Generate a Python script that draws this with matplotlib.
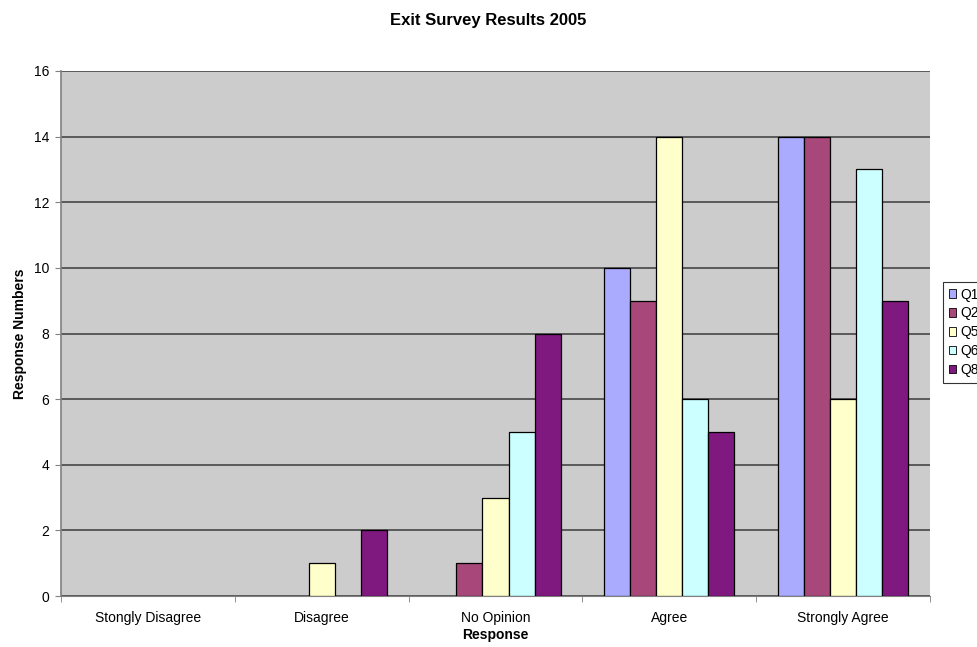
import numpy as np
import matplotlib.pyplot as plt
from matplotlib.patches import Patch

plt.rcParams['font.family'] = ['Liberation Sans', 'DejaVu Sans']

categories = ["Stongly Disagree", "Disagree", "No Opinion", "Agree", "Strongly Agree"]
series = ["Q1", "Q2", "Q5", "Q6", "Q8"]
q1 = [0, 0, 0, 10, 14]
q2 = [0, 0, 1, 9, 14]
q5 = [0, 1, 3, 14, 6]
q6 = [0, 0, 5, 6, 13]
q8 = [0, 2, 8, 5, 9]
values = [q1, q2, q5, q6, q8]
colors = ["#AAAAFF", "#A8487A", "#FFFFCC", "#CCFFFF", "#80197F"]

fig = plt.figure(figsize=(9.77, 6.47), dpi=100)
ax = fig.add_axes([61/977, 51/647, 869/977, 525/647])
ax.set_facecolor("#CCCCCC")

x = np.arange(len(categories))
w = 0.15
for i, (name, vals) in enumerate(zip(series, values)):
    bars = ax.bar(x + (i - 2) * w, vals, w, color=colors[i], edgecolor="black",
                  linewidth=0.9, label=name, zorder=3)
    # Excel draws nothing for zero-height bars
    for b, v in zip(bars, vals):
        if v == 0:
            b.set_visible(False)

ax.set_xlim(-0.5, len(categories) - 0.5)
ax.set_ylim(0, 16)
ax.set_yticks(range(0, 17, 2))
ax.yaxis.grid(True, color="#3a3a3a", linewidth=1.1, zorder=1)
ax.set_axisbelow(True)

ax.set_xticks(x)
ax.set_xticklabels(categories, fontsize=10)
ax.set_xticks(np.arange(-0.5, len(categories), 1), minor=True)
ax.tick_params(axis="x", which="major", length=0, pad=11)
ax.tick_params(axis="x", which="minor", length=4.5, direction="out", color="#808080")
ax.tick_params(axis="y", labelsize=10, length=4.5, direction="out", color="#808080", pad=4)

for s in ["top", "right"]:
    ax.spines[s].set_visible(False)
ax.spines["left"].set_color("#808080")
ax.spines["left"].set_linewidth(1.2)
ax.spines["bottom"].set_color("#808080")

ax.set_xlabel("Response", fontsize=10, fontweight="bold", labelpad=2)
ax.set_ylabel("Response Numbers", fontsize=10, fontweight="bold", labelpad=5)
fig.suptitle("Exit Survey Results 2005", fontsize=12, fontweight="bold",
             x=0.5, y=1 - 20/647, va="center")

# legend sits partly outside the figure, as in the reference
handles = [Patch(facecolor=c, edgecolor="black", linewidth=0.6) for c in colors]
leg = ax.legend(handles, series, loc="upper left", bbox_to_anchor=(943/977, 1 - 282/647),
                bbox_transform=fig.transFigure, fontsize=10, frameon=True, fancybox=False,
                borderpad=0.4, labelspacing=0.35, handlelength=0.55, handleheight=0.55,
                handletextpad=0.3, borderaxespad=0)
leg.get_frame().set_edgecolor("black")
leg.get_frame().set_linewidth(0.8)

fig.savefig("out.png", dpi=100)
